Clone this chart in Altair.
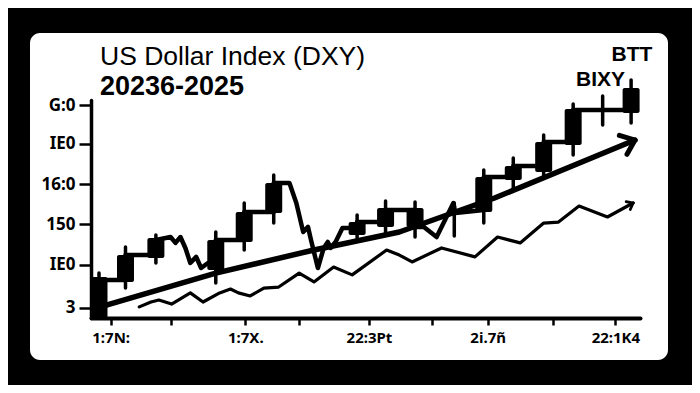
import altair as alt
import pandas as pd

# ---------------- data ----------------
# candlesticks (x in months from start, y in index points)
candle_x = [0.20, 1.97, 4.00, 8.00, 9.90, 11.87, 17.44, 19.34, 21.31, 23.93, 25.90, 27.87, 29.90, 31.87, 33.84, 35.74]
body_hi = [99.41, 100.49, 101.33, 101.23, 102.62, 104.05, 102.12, 102.81, 102.81, None, 104.35, 104.89, 106.07, 107.70, None, 108.74]
body_lo = [97.38, 99.16, 100.35, 99.75, 101.14, 102.57, 101.48, 101.88, 101.88, None, 102.62, 104.20, 104.59, 105.93, None, 107.51]
wick_hi = [99.60, 100.89, 101.48, 101.63, 103.06, 104.44, 102.47, 103.16, 103.11, 103.06, 104.69, 105.28, 106.42, 107.95, 108.35, 109.14]
wick_lo = [97.38, 98.86, 100.10, 99.11, 100.74, 102.07, 101.23, 101.58, 101.38, 101.43, 102.07, 103.70, 104.35, 105.43, 106.91, 107.01]

# thick price path joining the candles
path_x = [0.26, 1.97, 1.97, 4.00, 4.00, 4.98, 5.31, 5.64, 5.97, 6.30, 6.69, 7.02, 7.48, 8.00, 8.00,
          9.90, 9.90, 11.87, 11.87, 12.92, 13.38, 13.84, 14.16, 14.36, 14.82, 15.21, 15.48, 15.67,
          16.00, 16.46, 17.44, 17.44, 19.34, 19.34, 21.31, 21.31, 21.90, 22.75, 23.87, 24.00, 25.90,
          25.90, 27.87, 27.87, 29.90, 29.90, 31.87, 31.87, 35.74]
path_y = [99.26, 99.26, 100.49, 100.49, 101.23, 101.38, 101.09, 101.38, 100.84, 100.10, 100.40, 99.85,
          100.10, 100.10, 101.23, 101.23, 102.62, 102.62, 104.05, 104.05, 103.06, 101.63, 101.88,
          101.23, 99.85, 100.84, 101.14, 100.84, 101.14, 101.83, 101.83, 102.12, 102.12, 102.72,
          102.72, 101.88, 101.88, 101.38, 103.06, 102.57, 102.72, 104.35, 104.35, 104.89, 104.89,
          106.07, 106.07, 107.65, 107.65]

# trend arrow
trend_x = [0.52, 8.00, 14.56, 20.26, 26.62, 36.00]
trend_y = [97.98, 99.60, 100.74, 101.63, 103.31, 106.17]

# thin wavy series
wave_x = [2.89, 3.67, 4.20, 5.05, 6.30, 7.15, 8.26, 8.98, 9.51, 10.30, 11.21, 12.20, 13.57, 14.56,
          15.87, 17.11, 19.41, 20.26, 21.11, 23.08, 25.31, 26.82, 28.33, 29.90, 30.89, 32.26, 34.16, 35.87]
wave_y = [97.93, 98.17, 98.27, 98.07, 98.62, 98.17, 98.62, 98.81, 98.62, 98.47, 98.86, 98.91, 99.60,
          99.16, 99.90, 99.51, 100.74, 100.49, 100.15, 100.84, 100.40, 101.38, 101.09, 102.07, 102.12,
          102.91, 102.37, 103.06]

# annotations
note_text = ["BTT", "BIXY"]
note_x = [35.80, 33.70]
note_y = [110.07, 108.84]
note_size = [21, 21]

# axis ticks / labels
ytick_vals = [97.88, 100, 102, 104, 106, 107.9]
ytick_labels = ["3", "IE0", "150", "16:0", "IE0", "G:0"]
xtick_vals = [0.98, 4.98, 9.97, 13.57, 18.23, 22.43, 26.16, 30.49, 34.69]
xtick_labels = ["1:7N:", "", "1:7X.", "", "22:3Pt", "", "2i.7ñ", "", "22:1K4"]

title_text = "US Dollar Index (DXY)"
subtitle_text = "20236-2025"

# ---------------- helpers ----------------
def label_expr(vals, labels):
    expr = "''"
    for v, l in reversed(list(zip(vals, labels))):
        expr = f"abs(datum.value - {v}) < 0.01 ? '{l}' : ({expr})"
    return expr

FONT = "Noto Sans"
TFONT = "Liberation Sans"
XDOM = [0, 36]
YDOM = [97.38, 108.15]

xaxis = alt.Axis(values=xtick_vals, labelExpr=label_expr(xtick_vals, xtick_labels), title=None,
                 grid=False, domainWidth=4, domainColor="black", tickColor="black", tickWidth=2.5,
                 tickSize=7, labelPadding=5, labelFontSize=15, labelFont=FONT, labelFontWeight="bold",
                 labelColor="black", labelFlush=False, zindex=1, domainCap="round")
yaxis = alt.Axis(values=ytick_vals, labelExpr=label_expr(ytick_vals, ytick_labels), title=None,
                 grid=False, domainWidth=3.5, domainColor="black", tickColor="black", tickWidth=2.5,
                 tickSize=12, labelPadding=4, labelFontSize=17, labelFont=FONT, labelFontWeight="bold",
                 labelColor="black", zindex=1, domainCap="round")

def X(field):
    return alt.X(field, type="quantitative", scale=alt.Scale(domain=XDOM, nice=False, zero=False), axis=xaxis)

def Y(field):
    return alt.Y(field, type="quantitative", scale=alt.Scale(domain=YDOM, nice=False, zero=False), axis=yaxis)

one = pd.DataFrame({"a": [0]})

candles = pd.DataFrame({"x": candle_x, "bhi": body_hi, "blo": body_lo, "whi": wick_hi, "wlo": wick_lo})
path = pd.DataFrame({"x": path_x, "y": path_y, "i": list(range(len(path_x)))})
trend = pd.DataFrame({"x": trend_x, "y": trend_y})
wave = pd.DataFrame({"x": wave_x, "y": wave_y})
notes = pd.DataFrame({"t": note_text, "x": note_x, "y": note_y, "s": note_size})
trend_tip = pd.DataFrame({"x": [trend_x[-1]], "y": [trend_y[-1]]})
wave_tip = pd.DataFrame({"x": [wave_x[-1]], "y": [wave_y[-1]]})

# ---------------- layers ----------------
panel = alt.Chart(one).mark_rect(color="white", cornerRadius=10).encode(
    x=alt.value(-61), x2=alt.value(577), y=alt.value(-67), y2=alt.value(260))

title = alt.Chart(one).mark_text(align="left", baseline="alphabetic", font=TFONT, fontSize=26.5,
                                 color="black").encode(
    x=alt.value(9), y=alt.value(-35), text=alt.value(title_text))
subtitle = alt.Chart(one).mark_text(align="left", baseline="alphabetic", font=TFONT, fontSize=27,
                                    fontWeight="bold", color="black").encode(
    x=alt.value(9), y=alt.value(-5), text=alt.value(subtitle_text))

wave_line = alt.Chart(wave).mark_line(color="black", strokeWidth=3.2, strokeJoin="round",
                                      strokeCap="round").encode(x=X("x"), y=Y("y"))
wave_head = alt.Chart(wave_tip).mark_point(shape="M-1,-0.8L0,0L-1,0.8", filled=False, color="black",
                                           strokeWidth=2.8, size=120, angle=332, opacity=1,
                                           strokeCap="round").encode(x=X("x"), y=Y("y"))

trend_line = alt.Chart(trend).mark_line(color="black", strokeWidth=5.5, strokeJoin="round",
                                        strokeCap="round").encode(x=X("x"), y=Y("y"))
trend_head = alt.Chart(trend_tip).mark_point(shape="M-1,-0.8L0,0L-1,0.8", filled=False, color="black",
                                             strokeWidth=5, size=650, angle=338, opacity=1,
                                             strokeCap="round", strokeJoin="round").encode(x=X("x"), y=Y("y"))

price = alt.Chart(path).mark_line(color="black", strokeWidth=4.5, strokeJoin="round",
                                  strokeCap="round").encode(x=X("x"), y=Y("y"), order="i:Q")

wicks = alt.Chart(candles).mark_rule(color="black", strokeWidth=3.5, strokeCap="round").encode(
    x=X("x"), y=Y("whi"), y2="wlo")
bodies = alt.Chart(candles).transform_filter("isValid(datum.bhi)").mark_bar(
    color="black", size=17, cornerRadius=2).encode(x=X("x"), y=Y("bhi"), y2="blo")

note_marks = alt.Chart(notes).mark_text(align="center", baseline="alphabetic", font=TFONT,
                                        fontWeight="bold", color="black").encode(
    x=X("x"), y=Y("y"), text="t:N", size=alt.Size("s:Q", scale=None, legend=None))

chart = alt.layer(panel, title, subtitle, wave_line, wave_head, trend_line, trend_head, price, wicks,
                  bodies, note_marks).properties(
    width=549, height=218,
    padding={"left": 83, "top": 92, "right": 52, "bottom": 67},
    autosize=alt.AutoSizeParams(type="none"),
    background="black",
).configure_view(stroke=None)

chart.save("out.html", embed_options={"renderer": "svg", "actions": False})
